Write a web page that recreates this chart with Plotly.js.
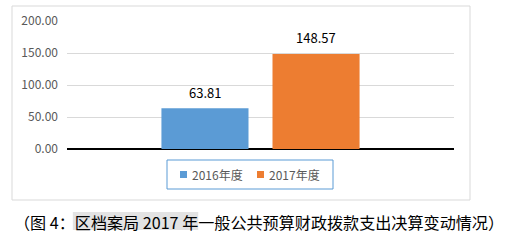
<!DOCTYPE html>
<html><head><meta charset="utf-8">
<script src="https://cdn.plot.ly/plotly-3.0.1.min.js"></script>
<style>html,body{margin:0;padding:0;background:#fff;}#c{width:505px;height:247px;}</style>
</head><body><div id="c"></div>
<script>
const category = ['一般公共预算财政拨款支出'];
const seriesNames = ['2016年度', '2017年度'];
const seriesColors = ['#5b9bd5', '#ed7d31'];
const values2016 = [63.81];
const values2017 = [148.57];
const yTicks = [0, 50, 100, 150, 200];
const captionPre = '（图 4：';
const captionHl = '区档案局 2017 年';
const captionPost = '一般公共预算财政拨款支出决算变动情况）';

const W = 505, H = 247;
const L = 67, R = 454, T = 21, B = 149;
const px = x => (x - L) / (R - L);
const py = y => (B - y) / (B - T);
const font = '"Noto Sans CJK SC", "Noto Sans", sans-serif';

// caption sizing via text measurement
const ctx = document.createElement('canvas').getContext('2d');
const mt = (s, sz) => { ctx.font = sz + 'px "Noto Sans CJK SC"'; return ctx.measureText(s); };
const full = captionPre + captionHl + captionPost;
const m15 = mt(full, 15);
const vis15 = (m15.actualBoundingBoxLeft + m15.actualBoundingBoxRight) || (m15.width - 14);
let capSize = 15 * 469 / vis15;
capSize = Math.max(13, Math.min(17, capSize));
const mC = mt(full, capSize);
const abl = isFinite(mC.actualBoundingBoxLeft) ? mC.actualBoundingBoxLeft : -0.6 * capSize;
const origin = 24 + abl;           // text origin so visible glyphs start at x=24
const capX0 = origin - 1;          // annotation box left (borderpad 1)
const hlX0 = origin + mt(captionPre, capSize).width - 1;
const hlX1 = origin + mt(captionPre + captionHl, capSize).width + 1;

const mk = (i, vals) => ({
  type: 'bar', name: seriesNames[i], x: category, y: vals,
  marker: {color: seriesColors[i]}, hoverinfo: 'none'
});
const data = [mk(0, values2016), mk(1, values2017)];

// manual legend (Excel-like compact)
const legShapes = [
  {type: 'rect', xref: 'paper', yref: 'paper', x0: px(167), x1: px(333), y0: py(160), y1: py(189),
    line: {color: '#5b9bd5', width: 1}, fillcolor: '#fff'},
  {type: 'rect', xref: 'paper', yref: 'paper', x0: px(180), x1: px(187), y0: py(171), y1: py(178),
    line: {width: 0}, fillcolor: seriesColors[0]},
  {type: 'rect', xref: 'paper', yref: 'paper', x0: px(257), x1: px(264), y0: py(171), y1: py(178),
    line: {width: 0}, fillcolor: seriesColors[1]}
];
const legText = [
  {xref: 'paper', yref: 'paper', x: px(190), y: py(174.5), xanchor: 'left', yanchor: 'middle',
    text: seriesNames[0], showarrow: false, font: {family: font, size: 12, color: '#595959'}},
  {xref: 'paper', yref: 'paper', x: px(267), y: py(174.5), xanchor: 'left', yanchor: 'middle',
    text: seriesNames[1], showarrow: false, font: {family: font, size: 12, color: '#595959'}}
];

const layout = {
  width: W, height: H,
  margin: {l: L, r: W - R, t: T, b: H - B, pad: 0},
  paper_bgcolor: '#fff', plot_bgcolor: '#fff',
  barmode: 'group', bargap: 0.426, bargroupgap: 0.216,
  showlegend: false,
  xaxis: {showticklabels: false, showgrid: false, zeroline: false, showline: false, ticks: ''},
  yaxis: {range: [0, 200], tickvals: yTicks, tickformat: '.2f', showgrid: true, gridcolor: '#d9d9d9',
    zeroline: true, zerolinecolor: '#000', zerolinewidth: 1.5, showline: false, ticks: '',
    tickfont: {family: font, size: 12, color: '#595959'}, ticklabelstandoff: 8},
  shapes: [
    {type: 'rect', xref: 'paper', yref: 'paper', x0: px(12), x1: px(470), y0: py(6), y1: py(200),
      line: {color: '#d9d9d9', width: 1}, fillcolor: 'rgba(0,0,0,0)', layer: 'below'},
    {type: 'rect', xref: 'paper', yref: 'paper', x0: px(hlX0), x1: px(hlX1), y0: py(212), y1: py(230),
      line: {width: 0}, fillcolor: '#e3e3e3', layer: 'below'}
  ].concat(legShapes),
  annotations: [
    {xref: 'x', yref: 'y', x: category[0], xshift: -55.5, y: values2016[0], yshift: 16,
      text: values2016[0].toFixed(2), showarrow: false, yanchor: 'middle',
      font: {family: font, size: 13, color: '#000'}},
    {xref: 'x', yref: 'y', x: category[0], xshift: 55.5, y: values2017[0], yshift: 16,
      text: values2017[0].toFixed(2), showarrow: false, yanchor: 'middle',
      font: {family: font, size: 13, color: '#000'}},
    {xref: 'paper', yref: 'paper', x: px(capX0), y: py(222), xanchor: 'left', yanchor: 'middle',
      text: full, showarrow: false, font: {family: font, size: capSize, color: '#000'}}
  ].concat(legText)
};
Plotly.newPlot('c', data, layout, {staticPlot: true, displayModeBar: false});
</script></body></html>
